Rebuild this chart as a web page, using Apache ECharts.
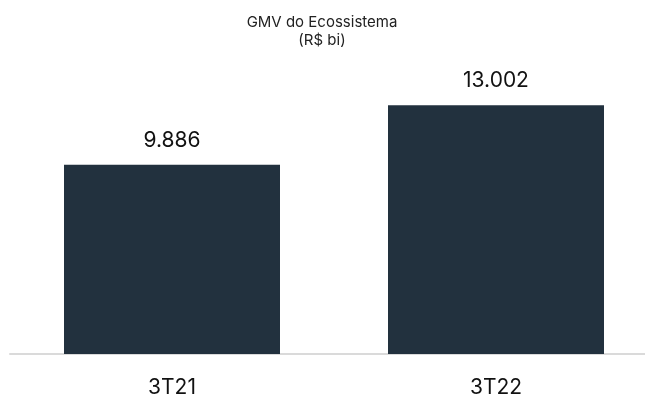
<!DOCTYPE html>
<html>
<head>
<meta charset="utf-8">
<script src="https://cdn.jsdelivr.net/npm/echarts@6/dist/echarts.min.js"></script>
<style>
  html, body { margin: 0; padding: 0; background: #fff; overflow: hidden; }
  #chart { width: 658px; height: 398px; }
</style>
</head>
<body>
<div id="chart"></div>
<script>
// GMV do ecossistema por trimestre (R$ bi)
const categories = ['3T21', '3T22'];
const gmvValues = [9.886, 13.002];

const fmt = v => v.toFixed(3);
const FONT = 'Inter, Liberation Sans, Arial, sans-serif';

const chart = echarts.init(document.getElementById('chart'), null, { renderer: 'canvas' });
chart.setOption({
  animation: false,
  title: {
    text: 'GMV do Ecossistema\n(R$ bi)',
    left: 322,
    textAlign: 'center',
    top: 13,
    padding: 0,
    textStyle: {
      fontFamily: FONT,
      fontSize: 15,
      fontWeight: 'normal',
      color: '#222',
      lineHeight: 18
    }
  },
  grid: { left: 10, right: 0, top: 67, bottom: 42 },
  xAxis: {
    type: 'category',
    data: categories,
    axisLine: { show: true, lineStyle: { color: '#dadada', width: 2 } },
    axisTick: { show: false },
    axisLabel: {
      margin: 23,
      fontFamily: FONT,
      fontSize: 21,
      color: '#111'
    }
  },
  yAxis: {
    type: 'value',
    min: 0,
    max: 15,
    show: false,
    splitLine: { show: false }
  },
  series: [{
    type: 'bar',
    data: gmvValues,
    barWidth: 216,
    itemStyle: { color: '#22313e' },
    label: {
      show: true,
      position: 'top',
      distance: 14,
      formatter: p => fmt(p.value),
      fontFamily: FONT,
      fontSize: 21,
      color: '#111'
    }
  }]
});
</script>
</body>
</html>
